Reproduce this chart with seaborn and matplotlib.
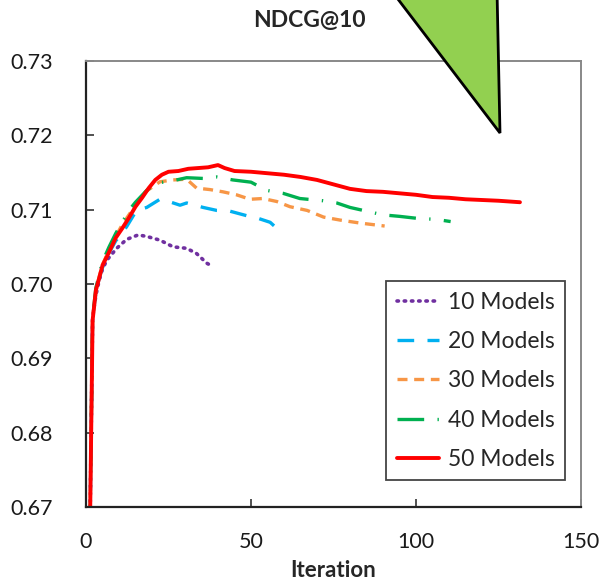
import matplotlib
matplotlib.use("Agg")
import matplotlib.pyplot as plt
import seaborn as sns
import pandas as pd
from matplotlib.patches import Polygon

sns.set_theme(style="white")
plt.rcParams['font.family'] = ['Lato', 'DejaVu Sans']

# ---- data ----
it_10 = [1, 2, 3, 4, 5, 6.3, 9.3, 12.3, 15.8, 18.4, 22.4, 26.4, 30.5, 33.5, 36.6, 38.6]
v_10 = [0.660, 0.6955, 0.6985, 0.7005, 0.7020, 0.7032, 0.7048, 0.7060, 0.7066, 0.7064,
        0.7059, 0.7050, 0.7048, 0.7041, 0.7028, 0.7023]

it_20 = [1, 2, 3, 4, 5, 7, 9, 12.3, 15.3, 18.4, 22.4, 24.4, 28.5, 30.5, 35.5, 39.6, 43.6,
         48.6, 51.7, 55.8, 57.8]
v_20 = [0.660, 0.6955, 0.6988, 0.7008, 0.7022, 0.7042, 0.7058, 0.7077, 0.7099, 0.7103,
        0.7114, 0.7112, 0.7106, 0.7109, 0.7103, 0.7099, 0.7098, 0.7092, 0.7089, 0.7083, 0.7075]

it_30 = [1, 2, 3, 4, 5, 7, 9, 11, 13, 15, 18, 22.4, 26.4, 30.5, 33.5, 37.6, 41.5, 45.6,
         49.7, 53.6, 57.8, 61.8, 67, 72, 77, 83, 90.5]
v_30 = [0.660, 0.6955, 0.6990, 0.7010, 0.7026, 0.7046, 0.7064, 0.7080, 0.7093, 0.7106,
        0.7124, 0.71375, 0.7140, 0.7141, 0.7129, 0.7127, 0.7124, 0.7120, 0.7114, 0.7115,
        0.7111, 0.7104, 0.7099, 0.7090, 0.7086, 0.7082, 0.7078]

it_40 = [1, 2, 3, 4, 5, 7, 9, 11, 13, 15, 18.4, 21.4, 25.4, 30.5, 35.5, 39.6, 44.5, 50,
         54.7, 59.7, 64.8, 71.8, 76, 80, 84, 90, 95, 101, 106, 110.5]
v_40 = [0.660, 0.6955, 0.6995, 0.7012, 0.7030, 0.7050, 0.7068, 0.7083, 0.7099, 0.7110,
        0.7126, 0.7136, 0.7138, 0.7143, 0.7142, 0.7144, 0.7140, 0.7137, 0.7126, 0.7122,
        0.7115, 0.7112, 0.7109, 0.7103, 0.7099, 0.7093, 0.7091, 0.7088, 0.7087, 0.7084]

it_50 = [1, 2, 3, 4, 5, 7, 9, 11, 13, 15, 17, 19, 21, 23, 25, 28, 31, 34, 37, 40, 42, 45,
         50, 55, 60, 65, 70, 75, 80, 85, 90, 95, 100, 105, 110, 115, 120, 125, 131.5]
v_50 = [0.660, 0.6951, 0.6992, 0.7008, 0.7025, 0.7043, 0.7062, 0.7075, 0.7089, 0.7104,
        0.7116, 0.7129, 0.7140, 0.7147, 0.7151, 0.7152, 0.7155, 0.7156, 0.7157, 0.7160,
        0.7156, 0.7152, 0.7151, 0.7149, 0.7147, 0.7144, 0.7140, 0.7134, 0.7128, 0.7125,
        0.7124, 0.7122, 0.7120, 0.7117, 0.7116, 0.7114, 0.7113, 0.7112, 0.7110]

labels = ["10 Models", "20 Models", "30 Models", "40 Models", "50 Models"]
x_ticks = [0, 50, 100, 150]
y_ticks = [0.67, 0.68, 0.69, 0.70, 0.71, 0.72, 0.73]
y_tick_labels = ["0.67", "0.68", "0.69", "0.70", "0.71", "0.72", "0.73"]

series = [(it_10, v_10), (it_20, v_20), (it_30, v_30), (it_40, v_40), (it_50, v_50)]
colors = ["#7030A0", "#00B0F0", "#F79646", "#00B050", "#FF0000"]
dashes = [(0.4, 1.6), (5, 4), (3, 2), (8, 4, 0.4, 4), None]
widths = [2.6, 2.4, 2.4, 2.4, 2.8]

fig = plt.figure(figsize=(6.05, 5.8), dpi=100)
ax = fig.add_axes([86/605, 1-507/580, 495/605, 446/580])

for (xs, ys), lab, c, d, w in zip(series, labels, colors, dashes, widths):
    df = pd.DataFrame({"Iteration": xs, "NDCG": ys})
    kw = {}
    if d is not None:
        kw["dashes"] = d
    sns.lineplot(data=df, x="Iteration", y="NDCG", ax=ax, color=c, lw=w,
                 label=lab, **kw)
for ln, d in zip(ax.get_lines(), dashes):
    if d is not None and d[0] < 1:
        ln.set_dash_capstyle("round")

ax.set_xlim(0, 150)
ax.set_ylim(0.67, 0.73)
ax.set_xticks(x_ticks)
ax.set_yticks(y_ticks)
ax.set_yticklabels(y_tick_labels)
ax.set_xlabel("")
ax.set_ylabel("")
ax.tick_params(direction="in", length=6, width=1.2, labelsize=15.5, color="#333333",
               labelcolor="#1a1a1a", bottom=True, left=True, top=False, right=False)
ax.tick_params(axis="x", pad=18)
ax.tick_params(axis="y", pad=24)
for s in ["left", "bottom"]:
    ax.spines[s].set_color("#222222")
    ax.spines[s].set_linewidth(1.6)
for s in ["top", "right"]:
    ax.spines[s].set_color("#888888")
    ax.spines[s].set_linewidth(1.4)

leg = ax.legend(loc="lower right", bbox_to_anchor=(0.968, 0.06), fontsize=16.5,
                frameon=True, fancybox=False, edgecolor="#444444", framealpha=1,
                handlelength=1.85, labelspacing=0.8, borderpad=0.45, handletextpad=0.4,
                borderaxespad=0)
leg.get_frame().set_linewidth(1.3)

fig.text(309/605, 1-20/580, "NDCG@10", ha="center", va="center", fontsize=16.5,
         fontweight="bold")
fig.text(333/605, 3/580, "Iteration", ha="center", va="baseline", fontsize=16,
         fontweight="bold")

tri = Polygon([(391/605, 1+10/580), (497/605, 1+10/580), (500/605, 1-133/580)],
              closed=True, transform=fig.transFigure, facecolor="#92D050",
              edgecolor="black", lw=2, clip_on=False, zorder=10)
fig.patches.append(tri)

fig.savefig("out.png", dpi=100)
